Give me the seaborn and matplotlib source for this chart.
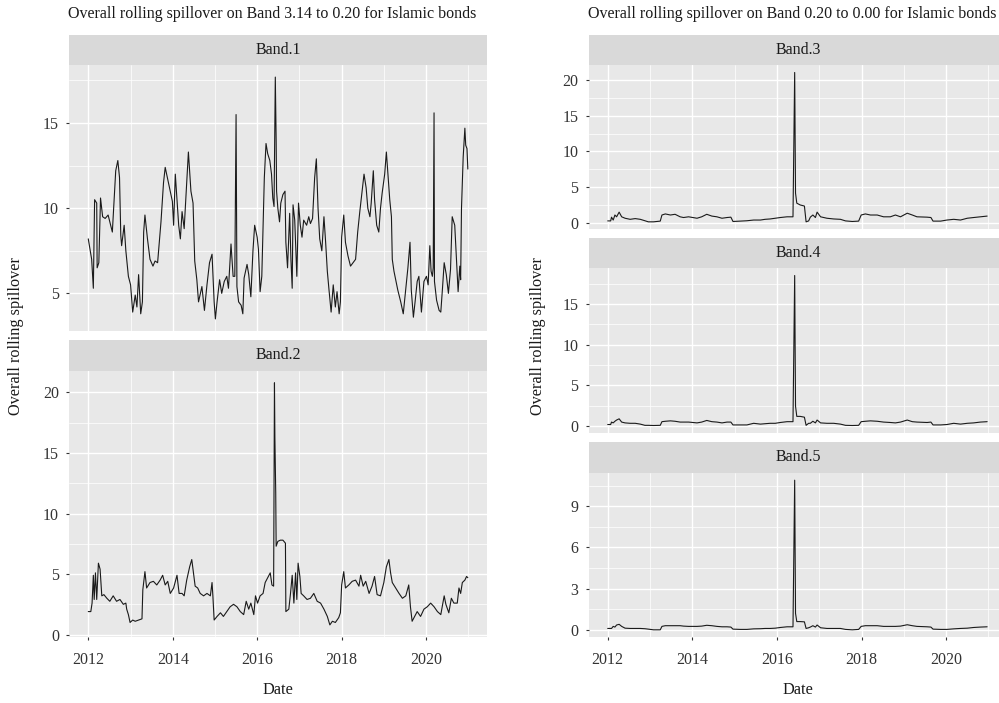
import matplotlib

matplotlib.use("Agg")
import matplotlib.dates as mdates
import matplotlib.pyplot as plt
import matplotlib.ticker as mticker
import numpy as np
import pandas as pd
import seaborn as sns

# ---- data (decimal years, spillover values) ----
band1_years = [
    2012.00, 2012.08, 2012.12, 2012.15, 2012.20, 2012.21, 2012.25, 2012.29, 2012.34, 2012.40,
    2012.47, 2012.57, 2012.65, 2012.70, 2012.74, 2012.77, 2012.79, 2012.85, 2012.89, 2012.95,
    2013.00, 2013.05, 2013.11, 2013.15, 2013.19, 2013.24, 2013.28, 2013.31, 2013.34, 2013.40,
    2013.46, 2013.53, 2013.58, 2013.64, 2013.69, 2013.72, 2013.78, 2013.82, 2013.88, 2013.94,
    2013.99, 2014.02, 2014.06, 2014.10, 2014.14, 2014.18, 2014.22, 2014.27, 2014.32, 2014.37,
    2014.43, 2014.48, 2014.52, 2014.57, 2014.61, 2014.69, 2014.75, 2014.81, 2014.87, 2014.93,
    2014.98, 2015.01, 2015.05, 2015.11, 2015.16, 2015.22, 2015.28, 2015.32, 2015.38, 2015.43,
    2015.47, 2015.50, 2015.52, 2015.56, 2015.62, 2015.66, 2015.69, 2015.76, 2015.80, 2015.85,
    2015.90, 2015.94, 2016.00, 2016.03, 2016.07, 2016.11, 2016.17, 2016.21, 2016.25, 2016.30,
    2016.34, 2016.37, 2016.40, 2016.43, 2016.45, 2016.46, 2016.49, 2016.53, 2016.56, 2016.61,
    2016.66, 2016.68, 2016.72, 2016.77, 2016.80, 2016.83, 2016.85, 2016.89, 2016.94, 2016.98,
    2017.02, 2017.06, 2017.10, 2017.17, 2017.22, 2017.26, 2017.31, 2017.36, 2017.40, 2017.44,
    2017.48, 2017.53, 2017.58, 2017.62, 2017.66, 2017.70, 2017.75, 2017.80, 2017.85, 2017.89,
    2017.94, 2017.97, 2018.00, 2018.05, 2018.09, 2018.15, 2018.21, 2018.27, 2018.33, 2018.38,
    2018.43, 2018.49, 2018.53, 2018.58, 2018.62, 2018.67, 2018.70, 2018.75, 2018.78, 2018.83,
    2018.88, 2018.92, 2018.96, 2019.02, 2019.06, 2019.11, 2019.14, 2019.18, 2019.20, 2019.24,
    2019.28, 2019.33, 2019.40, 2019.46, 2019.52, 2019.57, 2019.62, 2019.65, 2019.70, 2019.74,
    2019.79, 2019.83, 2019.89, 2019.95, 2020.01, 2020.05, 2020.09, 2020.12, 2020.15, 2020.17,
    2020.19, 2020.20, 2020.25, 2020.31, 2020.35, 2020.39, 2020.43, 2020.48, 2020.53, 2020.58,
    2020.62, 2020.68, 2020.72, 2020.76, 2020.80, 2020.82, 2020.84, 2020.88, 2020.92, 2020.94,
    2020.97, 2020.99,
]
band1_values = [
    8.2, 7.0, 5.3, 10.5, 10.3, 6.5, 6.8, 10.6, 9.5, 9.4,
    9.6, 8.6, 12.2, 12.8, 11.8, 8.4, 7.8, 9.0, 7.5, 6.0,
    5.5, 3.9, 4.9, 4.2, 6.1, 3.8, 4.5, 8.6, 9.6, 8.2,
    7.0, 6.6, 6.9, 6.8, 8.3, 9.2, 11.5, 12.4, 11.7, 11.0,
    10.4, 9.0, 12.0, 10.5, 9.0, 8.2, 9.8, 8.8, 11.0, 13.3,
    11.0, 10.3, 6.9, 5.8, 4.5, 5.4, 4.0, 5.5, 6.8, 7.3,
    4.5, 3.5, 4.5, 5.8, 5.0, 5.7, 6.0, 5.3, 7.9, 6.0,
    6.0, 15.5, 5.4, 4.5, 4.3, 3.8, 5.9, 6.7, 6.1, 4.8,
    7.5, 9.0, 8.3, 7.6, 5.1, 6.0, 11.8, 13.8, 13.2, 12.8,
    12.0, 10.6, 10.1, 17.7, 14.0, 11.0, 10.0, 9.2, 10.3, 10.8,
    11.0, 8.0, 6.5, 9.7, 7.0, 5.3, 10.2, 9.3, 6.0, 10.3,
    9.0, 8.3, 9.3, 9.0, 9.5, 9.1, 9.4, 11.8, 12.9, 10.0,
    8.2, 7.5, 9.5, 8.0, 6.3, 5.2, 3.9, 5.5, 4.2, 5.1,
    3.8, 4.5, 8.3, 9.6, 8.0, 7.2, 6.6, 6.8, 7.0, 8.6,
    9.8, 11.1, 12.0, 11.2, 10.0, 9.5, 10.3, 12.2, 10.5, 9.0,
    8.6, 10.0, 10.9, 12.0, 13.3, 11.5, 10.5, 9.5, 7.0, 6.3,
    5.8, 5.2, 4.5, 3.8, 5.3, 6.5, 8.0, 5.2, 3.6, 4.5,
    5.7, 6.0, 3.9, 5.7, 6.0, 5.5, 7.8, 6.3, 6.0, 6.5,
    15.6, 5.7, 4.6, 4.0, 3.9, 5.3, 6.8, 6.1, 5.0, 6.4,
    9.5, 9.0, 7.0, 5.1, 6.6, 5.8, 10.0, 13.0, 14.7, 13.7,
    13.5, 12.3,
]

band2_years = [
    2012.00, 2012.06, 2012.09, 2012.12, 2012.14, 2012.17, 2012.20, 2012.24, 2012.28, 2012.32,
    2012.37, 2012.44, 2012.51, 2012.59, 2012.67, 2012.75, 2012.83, 2012.89, 2012.91, 2012.95,
    2012.99, 2013.05, 2013.11, 2013.19, 2013.27, 2013.29, 2013.34, 2013.38, 2013.46, 2013.54,
    2013.62, 2013.70, 2013.76, 2013.82, 2013.88, 2013.94, 2014.02, 2014.10, 2014.15, 2014.22,
    2014.27, 2014.33, 2014.40, 2014.45, 2014.49, 2014.53, 2014.59, 2014.65, 2014.73, 2014.81,
    2014.89, 2014.93, 2014.95, 2014.98, 2015.05, 2015.13, 2015.20, 2015.28, 2015.36, 2015.44,
    2015.52, 2015.60, 2015.68, 2015.74, 2015.80, 2015.85, 2015.92, 2015.96, 2016.01, 2016.07,
    2016.14, 2016.19, 2016.25, 2016.31, 2016.35, 2016.39, 2016.41, 2016.42, 2016.44, 2016.45,
    2016.49, 2016.55, 2016.61, 2016.67, 2016.68, 2016.75, 2016.79, 2016.83, 2016.87, 2016.91,
    2016.94, 2016.97, 2017.01, 2017.04, 2017.10, 2017.18, 2017.26, 2017.34, 2017.42, 2017.50,
    2017.58, 2017.66, 2017.72, 2017.78, 2017.85, 2017.93, 2017.97, 2018.00, 2018.05, 2018.09,
    2018.17, 2018.25, 2018.33, 2018.41, 2018.45, 2018.51, 2018.57, 2018.65, 2018.72, 2018.78,
    2018.84, 2018.92, 2019.00, 2019.06, 2019.12, 2019.16, 2019.20, 2019.28, 2019.36, 2019.44,
    2019.52, 2019.59, 2019.63, 2019.67, 2019.73, 2019.79, 2019.87, 2019.95, 2020.03, 2020.11,
    2020.19, 2020.27, 2020.35, 2020.43, 2020.47, 2020.54, 2020.60, 2020.66, 2020.74, 2020.78,
    2020.82, 2020.86, 2020.92, 2020.96, 2020.99,
]
band2_values = [
    1.9, 1.9, 2.6, 4.9, 2.9, 5.1, 2.9, 5.9, 5.4, 3.2,
    3.3, 3.0, 2.75, 3.2, 2.75, 2.9, 2.5, 2.6, 2.1, 1.65,
    1.0, 1.2, 1.1, 1.2, 1.3, 3.7, 5.2, 3.85, 4.3, 4.4,
    4.1, 4.5, 4.9, 4.1, 4.4, 3.4, 3.85, 4.9, 3.4, 3.4,
    3.2, 4.5, 5.6, 6.2, 5.1, 4.0, 3.85, 3.4, 3.2, 3.4,
    3.2, 4.3, 3.2, 1.2, 1.5, 1.8, 1.5, 1.9, 2.3, 2.5,
    2.3, 1.9, 1.65, 2.75, 2.1, 2.6, 1.65, 3.2, 2.6, 3.2,
    3.4, 4.3, 4.7, 5.1, 4.1, 4.0, 20.8, 16.3, 11.7, 7.3,
    7.7, 7.8, 7.8, 7.55, 1.9, 2.1, 3.4, 4.9, 2.6, 5.1,
    2.9, 5.9, 4.8, 3.4, 3.2, 2.9, 3.0, 3.4, 2.75, 2.6,
    2.1, 1.5, 0.8, 1.1, 1.0, 1.4, 1.8, 4.1, 5.2, 3.85,
    4.1, 4.4, 4.5, 4.0, 4.9, 4.0, 4.4, 3.4, 4.0, 4.8,
    3.3, 3.2, 4.3, 5.6, 6.2, 5.1, 4.3, 3.85, 3.4, 3.0,
    3.2, 4.1, 2.3, 1.1, 1.5, 1.9, 1.5, 2.1, 2.3, 2.6,
    2.3, 1.9, 1.65, 3.2, 2.5, 1.8, 3.0, 2.6, 2.6, 3.85,
    3.4, 4.3, 4.5, 4.8, 4.7,
]

high_years = [
    2012.00, 2012.07, 2012.09, 2012.13, 2012.17, 2012.21, 2012.27, 2012.33, 2012.41, 2012.53,
    2012.65, 2012.77, 2012.88, 2012.96, 2013.08, 2013.24, 2013.28, 2013.36, 2013.48, 2013.59,
    2013.71, 2013.79, 2013.91, 2014.11, 2014.22, 2014.34, 2014.46, 2014.58, 2014.70, 2014.82,
    2014.91, 2014.96, 2015.13, 2015.29, 2015.45, 2015.61, 2015.72, 2015.84, 2015.96, 2016.08,
    2016.24, 2016.38, 2016.42, 2016.43, 2016.44, 2016.47, 2016.55, 2016.65, 2016.69, 2016.75,
    2016.79, 2016.85, 2016.91, 2016.95, 2017.03, 2017.18, 2017.34, 2017.50, 2017.62, 2017.78,
    2017.93, 2017.99, 2018.09, 2018.21, 2018.37, 2018.52, 2018.68, 2018.80, 2018.92, 2019.08,
    2019.20, 2019.31, 2019.55, 2019.64, 2019.69, 2019.87, 2020.02, 2020.18, 2020.34, 2020.50,
    2020.65, 2020.81, 2020.97,
]
band3_values = [
    0.33, 0.33, 0.85, 0.45, 1.15, 0.9, 1.55, 0.9, 0.7, 0.55,
    0.65, 0.55, 0.35, 0.2, 0.2, 0.3, 1.15, 1.3, 1.15, 1.25,
    0.9, 0.8, 0.9, 0.7, 0.9, 1.25, 1.0, 0.9, 0.7, 0.8,
    0.85, 0.25, 0.3, 0.35, 0.45, 0.45, 0.55, 0.6, 0.7, 0.8,
    0.9, 0.9, 21.0, 12.55, 4.2, 2.8, 2.55, 2.4, 0.2, 0.33,
    0.85, 1.15, 0.8, 1.55, 0.9, 0.7, 0.6, 0.55, 0.33, 0.25,
    0.3, 1.15, 1.3, 1.15, 1.15, 0.9, 0.9, 1.15, 0.9, 1.4,
    1.15, 0.9, 0.85, 0.8, 0.3, 0.3, 0.45, 0.55, 0.45, 0.7,
    0.8, 0.9, 1.0,
]
band4_values = [
    0.2, 0.2, 0.5, 0.4, 0.6, 0.75, 0.9, 0.5, 0.4, 0.35,
    0.35, 0.25, 0.1, 0.1, 0.08, 0.1, 0.55, 0.6, 0.65, 0.6,
    0.5, 0.5, 0.5, 0.4, 0.5, 0.7, 0.55, 0.5, 0.4, 0.5,
    0.5, 0.15, 0.15, 0.15, 0.35, 0.25, 0.3, 0.35, 0.35, 0.45,
    0.55, 0.55, 18.5, 10.4, 2.45, 1.2, 1.2, 1.1, 0.1, 0.35,
    0.35, 0.6, 0.4, 0.75, 0.4, 0.35, 0.35, 0.25, 0.1, 0.08,
    0.1, 0.55, 0.6, 0.65, 0.6, 0.5, 0.45, 0.4, 0.5, 0.75,
    0.55, 0.5, 0.45, 0.5, 0.15, 0.15, 0.2, 0.35, 0.25, 0.35,
    0.4, 0.5, 0.55,
]
band5_values = [
    0.1, 0.1, 0.1, 0.25, 0.2, 0.35, 0.4, 0.25, 0.12, 0.1,
    0.1, 0.1, 0.08, 0.05, 0.0, 0.0, 0.25, 0.3, 0.3, 0.3,
    0.3, 0.27, 0.25, 0.25, 0.27, 0.33, 0.3, 0.25, 0.22, 0.22,
    0.2, 0.05, 0.03, 0.03, 0.07, 0.08, 0.1, 0.1, 0.12, 0.17,
    0.22, 0.22, 10.9, 6.05, 1.2, 0.6, 0.6, 0.58, 0.1, 0.15,
    0.2, 0.3, 0.2, 0.35, 0.15, 0.1, 0.1, 0.1, 0.03, 0.0,
    0.03, 0.25, 0.3, 0.3, 0.3, 0.25, 0.25, 0.25, 0.27, 0.37,
    0.3, 0.25, 0.22, 0.2, 0.05, 0.03, 0.03, 0.07, 0.1, 0.12,
    0.17, 0.2, 0.22,
]

left_title = "Overall rolling spillover on Band 3.14 to 0.20 for Islamic bonds"
right_title = "Overall rolling spillover on Band 0.20 to 0.00 for Islamic bonds"
y_label = "Overall rolling spillover"
x_label = "Date"


def to_dates(years):
    years = np.asarray(years, dtype=float)
    whole = np.floor(years).astype(int)
    base = pd.to_datetime([f"{y}-01-01" for y in whole])
    return base + pd.to_timedelta((years - whole) * 365.25, unit="D")


frames = []
for name, yrs, vals in [
    ("Band.1", band1_years, band1_values),
    ("Band.2", band2_years, band2_values),
    ("Band.3", high_years, band3_values),
    ("Band.4", high_years, band4_values),
    ("Band.5", high_years, band5_values),
]:
    frames.append(pd.DataFrame({"band": name, "date": to_dates(yrs), "value": vals}))
df = pd.concat(frames, ignore_index=True)

sns.set_theme(style="darkgrid")
plt.rcParams["font.family"] = ["Liberation Serif", "DejaVu Serif"]

W, H = 999, 703
fig = plt.figure(figsize=(W / 100, H / 100), dpi=100)
fig.patch.set_facecolor("white")

# x range shared by all panels, ggplot-like 5% expansion
d0, d1 = df["date"].min(), df["date"].max()
pad = (d1 - d0) * 0.05
xlim = (d0 - pad, d1 + pad)

INK = "#1a1a1a"
TICK = "#333333"


def px_axes(x0, x1, top, bottom):
    return fig.add_axes([x0 / W, 1 - bottom / H, (x1 - x0) / W, (bottom - top) / H])


def strip(x0, x1, top, bottom, label):
    s = px_axes(x0, x1, top, bottom)
    s.set_facecolor("#d9d9d9")
    s.set_xticks([])
    s.set_yticks([])
    for sp in s.spines.values():
        sp.set_visible(False)
    s.grid(False)
    s.text(0.5, 0.5, label, ha="center", va="center", fontsize=11.5, color=INK,
           transform=s.transAxes)


def panel(x0, x1, top, bottom, band, step, show_x):
    ax = px_axes(x0, x1, top, bottom)
    ax.set_facecolor("#e8e8e8")
    sub = df[df["band"] == band]
    sns.lineplot(data=sub, x="date", y="value", ax=ax, color=INK, linewidth=0.8,
                 estimator=None, sort=False)
    ax.set_xlim(xlim)
    ax.margins(y=0.05)
    ax.xaxis.set_major_locator(mdates.YearLocator(2))
    ax.xaxis.set_minor_locator(mdates.YearLocator(1))
    ax.xaxis.set_major_formatter(mdates.DateFormatter("%Y"))
    ax.yaxis.set_major_locator(mticker.MultipleLocator(step))
    ax.yaxis.set_minor_locator(mticker.MultipleLocator(step / 2))
    ax.yaxis.set_major_formatter(mticker.FormatStrFormatter("%g"))
    ax.grid(which="major", color="white", linewidth=1.0)
    ax.grid(which="minor", color="white", linewidth=0.5)
    ax.set_axisbelow(True)
    for sp in ax.spines.values():
        sp.set_visible(False)
    ax.set_xlabel("")
    ax.set_ylabel("")
    ax.tick_params(axis="y", which="major", length=2.5, width=0.8, color=TICK,
                   labelsize=11.5, labelcolor=TICK, pad=5, left=True)
    ax.tick_params(which="minor", length=0)
    if show_x:
        ax.tick_params(axis="x", which="major", length=2.5, width=0.8, color=TICK,
                       labelsize=11.5, labelcolor=TICK, pad=8, bottom=True)
    else:
        ax.tick_params(axis="x", which="major", length=0, labelbottom=False)
    return ax


# left block
LX0, LX1 = 69.3, 486.8
strip(LX0, LX1, 35, 65, "Band.1")
panel(LX0, LX1, 65, 331, "Band.1", 5, False)
strip(LX0, LX1, 340, 370.7, "Band.2")
panel(LX0, LX1, 370.7, 637, "Band.2", 5, True)

# right block (runs past the image edge, as in the reference)
RX0, RX1 = 588.7, 1007
strip(RX0, RX1, 35, 65, "Band.3")
panel(RX0, RX1, 65, 229.3, "Band.3", 5, False)
strip(RX0, RX1, 238.3, 268, "Band.4")
panel(RX0, RX1, 268, 433, "Band.4", 5, False)
strip(RX0, RX1, 442, 472.7, "Band.5")
panel(RX0, RX1, 472.7, 637.3, "Band.5", 3, True)

fig.text(68 / W, 1 - 14 / H, left_title, ha="left", va="center", fontsize=11.5, color=INK)
fig.text(588 / W, 1 - 14 / H, right_title, ha="left", va="center", fontsize=11.5, color=INK)
fig.text(16 / W, 1 - 336 / H, y_label, rotation=90, ha="center", va="center",
         fontsize=11.7, color=INK)
fig.text(538 / W, 1 - 336 / H, y_label, rotation=90, ha="center", va="center",
         fontsize=11.7, color=INK)
fig.text((LX0 + LX1) / 2 / W, 1 - 690 / H, x_label, ha="center", va="center",
         fontsize=11.7, color=INK)
fig.text((RX0 + RX1) / 2 / W, 1 - 690 / H, x_label, ha="center", va="center",
         fontsize=11.7, color=INK)

fig.savefig("out.png", dpi=100, facecolor="white")
